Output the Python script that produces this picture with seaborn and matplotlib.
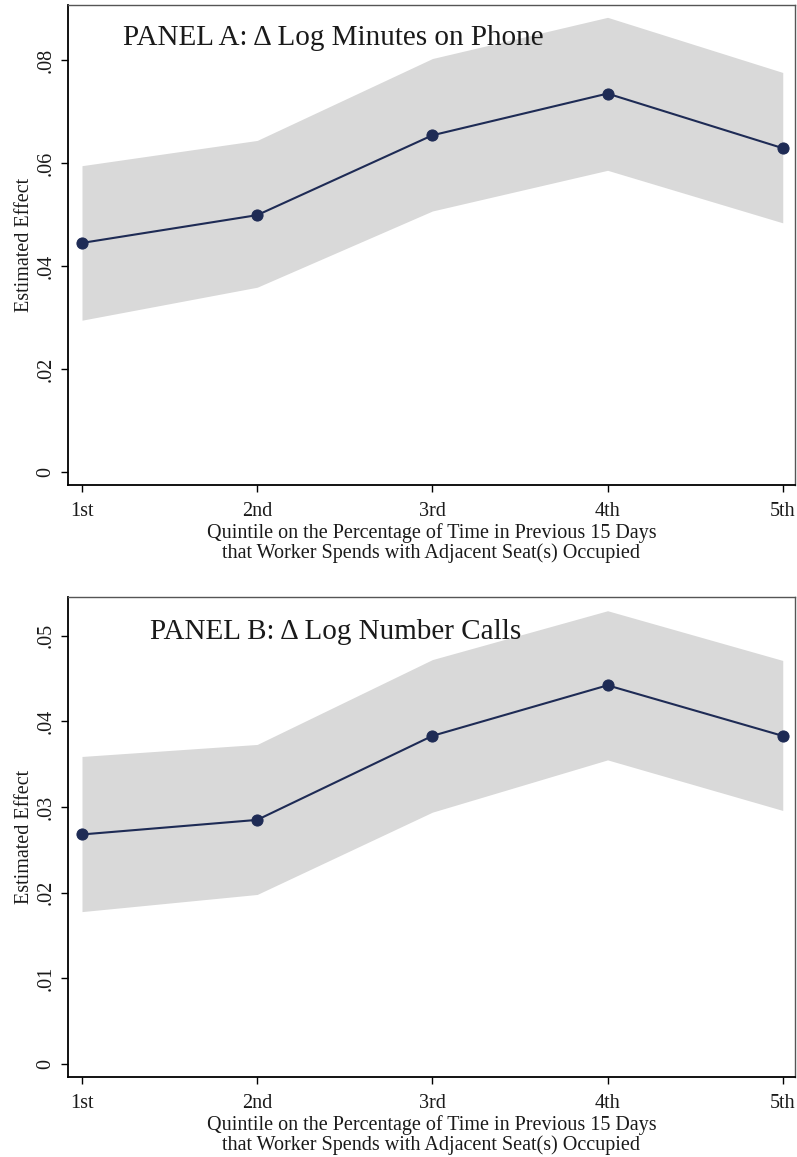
import matplotlib
matplotlib.use("Agg")
import matplotlib.pyplot as plt
import numpy as np
import pandas as pd
import seaborn as sns

sns.set_theme(style="white")
plt.rcParams["font.family"] = ["Liberation Serif", "DejaVu Serif"]

# Quintiles on the x axis
quintiles = [1, 2, 3, 4, 5]
quintile_labels = ["1st", "2nd", "3rd", "4th", "5th"]

# Panel A: delta log minutes on phone
est_a = [0.0445, 0.0499, 0.0654, 0.0735, 0.0629]
upper_a = [0.0595, 0.0644, 0.0803, 0.0883, 0.0776]
lower_a = [0.0295, 0.0359, 0.0507, 0.0586, 0.0484]

# Panel B: delta log number of calls
est_b = [0.0268, 0.0285, 0.0383, 0.0442, 0.0383]
upper_b = [0.0359, 0.0373, 0.0472, 0.0529, 0.0471]
lower_b = [0.0178, 0.0198, 0.0294, 0.0355, 0.0296]

yticks_a = [0, 0.02, 0.04, 0.06, 0.08]
yticks_b = [0, 0.01, 0.02, 0.03, 0.04, 0.05]

xlabel = ("Quintile on the Percentage of Time in Previous 15 Days\n"
          "that Worker Spends with Adjacent Seat(s) Occupied")

navy = "#1e2b55"
band = "#d9d9d9"
txt = "#1a1a1a"

fig = plt.figure(figsize=(7.97, 11.57), dpi=100)
ax_a = fig.add_axes([0.0853, 0.5808, 0.9122, 0.4149])
ax_b = fig.add_axes([0.0853, 0.0691, 0.9122, 0.4149])


def draw_panel(ax, est, lo, hi, yticks, ylim, title, title_x, title_y):
    df = pd.DataFrame({"q": quintiles, "est": est, "lo": lo, "hi": hi})
    ax.fill_between(df["q"], df["lo"], df["hi"], color=band, linewidth=0, zorder=1)
    sns.lineplot(data=df, x="q", y="est", ax=ax, color=navy, linewidth=1.5,
                 marker="o", markersize=8, markeredgecolor=navy, zorder=3)
    ax.set_xlim(0.92, 5.07)
    ax.set_ylim(*ylim)
    ax.set_xticks(quintiles)
    ax.set_xticklabels(quintile_labels, fontsize=14.5, color=txt)
    ax.set_yticks(yticks)
    ax.set_yticklabels(["0" if t == 0 else f"{t:.2f}".lstrip("0") for t in yticks],
                       fontsize=14.5, rotation=90, va="center", color=txt)
    ax.tick_params(axis="both", direction="out", length=5, width=1, color="black",
                   bottom=True, left=True, pad=4)
    ax.tick_params(axis="x", pad=7)
    ax.set_xlabel(xlabel, fontsize=14.5, labelpad=2, linespacing=1.0, color=txt)
    ax.set_ylabel("Estimated Effect", fontsize=14.5, labelpad=2, color=txt)
    ax.text(title_x, title_y, title, transform=ax.transAxes, fontsize=21,
            va="center", ha="left", color=txt)
    for side in ["left", "bottom"]:
        ax.spines[side].set_color("black")
        ax.spines[side].set_linewidth(1.3)
    for side in ["top", "right"]:
        ax.spines[side].set_color("#555555")
        ax.spines[side].set_linewidth(1.0)
    ax.grid(False)


draw_panel(ax_a, est_a, lower_a, upper_a, yticks_a, (-0.0025, 0.0907),
           "PANEL A: \u0394 Log Minutes on Phone", 0.076, 0.932)
draw_panel(ax_b, est_b, lower_b, upper_b, yticks_b, (-0.0015, 0.0545),
           "PANEL B: \u0394 Log Number Calls", 0.113, 0.927)

fig.savefig("out.png", dpi=100)
